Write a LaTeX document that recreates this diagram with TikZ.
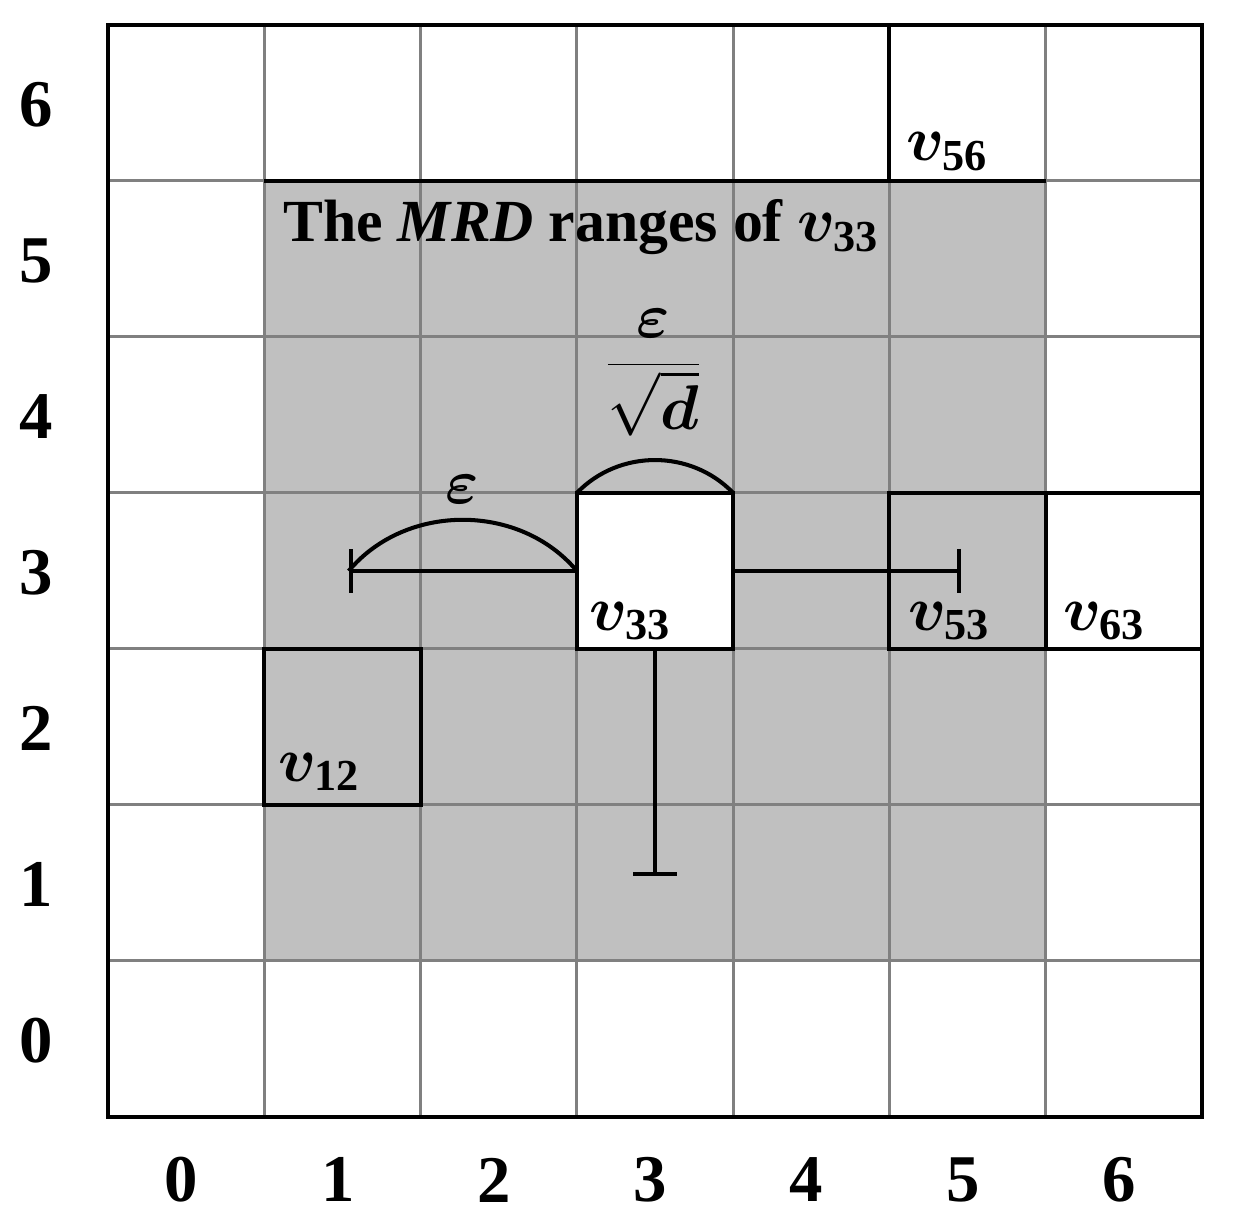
\RequirePackage{fix-cm}
\documentclass[tikz,border=0pt]{standalone}
\usepackage{fontspec}
\usepackage{amsmath,bm}
\setmainfont{Liberation Serif}
\usetikzlibrary{arrows.meta}
\definecolor{gline}{RGB}{128,128,128}
\definecolor{gfill}{RGB}{192,192,192}
\newcommand{\vsub}[1]{\bm{v}_{\mathbf{#1}}}
\begin{document}
\begin{tikzpicture}[x=3.126cm,y=3.12cm,
  gridln/.style={draw=gline,line width=1.7pt},
  blk/.style={draw=black,line width=2.3pt},
  meas/.style={draw=black,line width=2.3pt},
  tickend/.style={-{Bar[width=25pt,line width=2.3pt]}},
  vlab/.style={anchor=base west,inner sep=0pt,font=\fontsize{36}{40}\selectfont},
  axl/.style={inner sep=0pt,font=\fontsize{38}{42}\selectfont\bfseries}]
\useasboundingbox (-0.691,-0.692) rectangle (7.243,7.160);
\fill[white] (-0.691,-0.692) rectangle (7.243,7.160);
% MRD range
\fill[gfill] (1,1) rectangle (6,6);
\fill[white] (3,3) rectangle (4,4);
% grid
\foreach \k in {1,...,6}{
  \draw[gridln] (\k,0) -- (\k,7);
  \draw[gridln] (0,\k) -- (7,\k);
}
% black cell outlines
\draw[blk] (1,6) -- (6,6);
\draw[blk] (5,7) -- (5,6);
\draw[blk] (3,3) rectangle (4,4);
\draw[blk] (5,3) rectangle (7,4);
\draw[blk] (6,3) -- (6,4);
\draw[blk] (1,2) rectangle (2,3);
\draw[draw=black,line width=2.6pt] (0,0) rectangle (7,7);
% measure coordinates
\coordinate (cw) at (3,3.5);
\coordinate (ce) at (4,3.5);
\coordinate (cs) at (3.5,3);
\coordinate (ctl) at (3,4);
\coordinate (ctr) at (4,4);
\coordinate (lend) at (1.54,3.5);
\coordinate (rend) at (5.455,3.5);
\coordinate (dend) at (3.5,1.545);
\draw[meas,tickend] (cw) -- (lend);
\draw[meas,tickend] (ce) -- (rend);
\draw[meas,tickend] (cs) -- (dend);
\draw[meas] (lend) to[bend left=50] (cw);
\draw[meas] (ctl) to[bend left=46] (ctr);
% labels
\node[inner sep=0pt,font=\fontsize{36}{40}\selectfont] (eps) at (2.265,4.02) {$\bm{\varepsilon}$};
\node[inner sep=0pt,font=\fontsize{36}{40}\selectfont] (frac) at (3.49,4.77) {$\dfrac{\bm{\varepsilon}}{\sqrt{\bm{d}}}$};
\node[anchor=base west,inner sep=0pt,font=\fontsize{34}{38}\selectfont\bfseries] (title) at (1.12,5.61) {The \textit{MRD} ranges of {\fontsize{36}{40}\selectfont$\vsub{33}$}};
\node[vlab] (l56) at (5.11,6.13) {$\vsub{56}$};
\node[vlab] (l53) at (5.12,3.12) {$\vsub{53}$};
\node[vlab] (l63) at (6.11,3.12) {$\vsub{63}$};
\node[vlab] (l33) at (3.08,3.12) {$\vsub{33}$};
\node[vlab] (l12) at (1.09,2.15) {$\vsub{12}$};
% axes
\foreach \i in {0,...,6}{
  \node[axl] (x\i) at (\i+0.47,-0.404) {\i};
  \node[axl] (y\i) at (-0.46,\i+0.49) {\i};
}
\end{tikzpicture}
\end{document}
